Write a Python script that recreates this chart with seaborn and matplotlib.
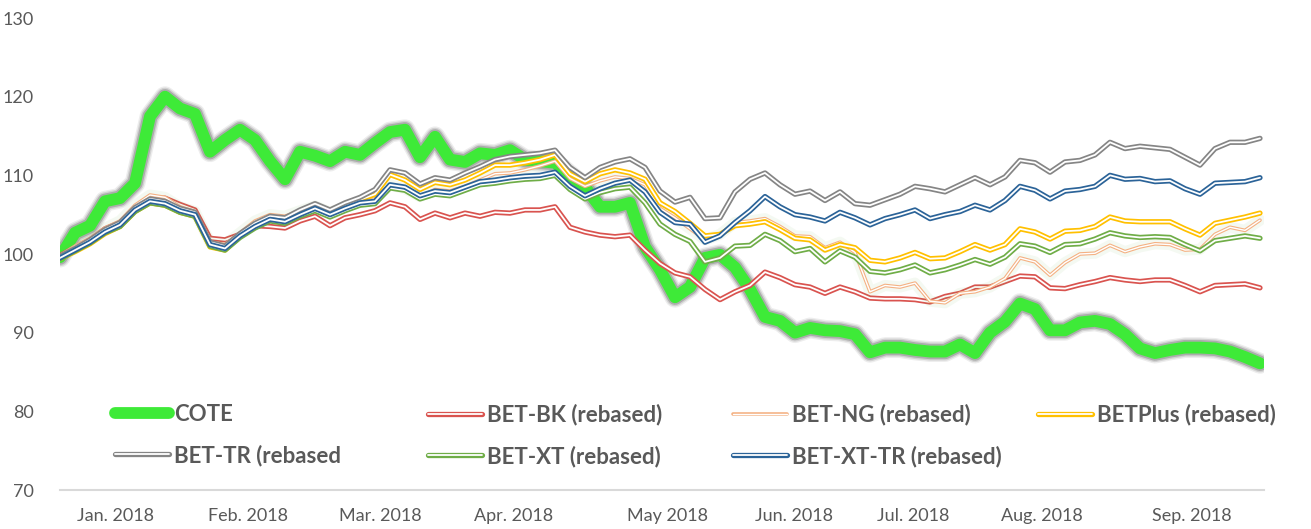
import numpy as np
import pandas as pd
import matplotlib
matplotlib.use("Agg")
import matplotlib.pyplot as plt
import matplotlib.patheffects as pe
from matplotlib.lines import Line2D
from matplotlib.legend_handler import HandlerBase
import seaborn as sns

# ---------------- data ----------------
cote = [99.6, 102.7, 103.6, 106.7, 107.1, 109.0, 117.5, 120.0, 118.5, 117.8,
        113.0, 114.5, 115.8, 114.5, 111.8, 109.5, 113.0, 112.5, 111.8, 113.0,
        112.6, 114.1, 115.5, 115.8, 112.3, 114.9, 112.0, 111.7, 112.8, 112.6,
        113.2, 112.0, 111.8, 111.6, 110.0, 108.5, 106.0, 106.0, 106.5, 100.9,
        98.0, 94.5, 95.8, 99.5, 99.9, 98.3, 95.5, 92.0, 91.5, 90.0,
        90.6, 90.3, 90.2, 89.8, 87.5, 88.1, 88.1, 87.8, 87.6, 87.6,
        88.5, 87.4, 90.0, 91.4, 93.7, 93.0, 90.3, 90.3, 91.3, 91.5,
        91.1, 89.8, 88.0, 87.4, 87.8, 88.1, 88.1, 88.0, 87.6, 86.9, 86.1]

bet_bk = [99.8, 100.8, 101.8, 103.2, 104.0, 105.7, 107.0, 107.1, 106.3, 105.6,
          102.0, 101.8, 102.5, 103.6, 103.5, 103.3, 104.2, 104.8, 103.6, 104.6,
          105.0, 105.5, 106.5, 106.0, 104.4, 105.2, 104.6, 105.2, 104.8, 105.3,
          105.2, 105.6, 105.6, 106.0, 103.4, 102.8, 102.4, 102.2, 102.4, 100.5,
          98.8, 97.6, 97.1, 95.5, 94.2, 95.2, 96.0, 97.7, 97.0, 96.1,
          95.8, 95.0, 95.8, 95.2, 94.4, 94.3, 94.3, 94.2, 93.9, 94.6,
          95.0, 95.8, 95.8, 96.5, 97.2, 97.1, 95.7, 95.6, 96.1, 96.5,
          97.0, 96.7, 96.5, 96.7, 96.7, 96.0, 95.2, 96.0, 96.1, 96.2, 95.7]

bet_ng = [99.8, 101.0, 102.0, 103.3, 104.2, 106.2, 107.5, 107.2, 106.0, 105.4,
          101.5, 101.2, 102.7, 104.2, 105.0, 104.8, 105.5, 106.1, 105.3, 106.0,
          106.6, 107.0, 108.8, 108.3, 107.3, 108.2, 108.0, 108.6, 109.4, 110.2,
          110.3, 110.7, 111.2, 111.8, 109.6, 108.6, 109.3, 109.8, 109.6, 108.8,
          105.8, 104.6, 103.2, 101.8, 102.5, 104.0, 104.2, 104.5, 103.5, 102.3,
          102.2, 100.8, 101.5, 100.2, 95.2, 96.0, 95.8, 96.3, 94.0, 93.8,
          95.0, 95.2, 95.8, 96.9, 99.5, 99.0, 97.3, 98.9, 100.0, 100.1,
          101.1, 100.3, 100.9, 101.3, 101.2, 100.5, 100.6, 102.5, 103.4, 103.0, 104.3]

bet_plus = [99.4, 100.3, 101.3, 102.6, 103.5, 105.4, 106.5, 106.2, 105.3, 104.8,
            100.9, 100.5, 102.2, 103.6, 104.6, 104.4, 105.3, 106.1, 105.4, 106.2,
            106.9, 107.6, 110.1, 109.4, 108.2, 109.1, 108.8, 109.4, 110.3, 111.3,
            111.3, 111.6, 112.0, 112.6, 110.2, 109.2, 110.2, 110.7, 110.3, 109.5,
            106.5, 105.4, 103.9, 102.3, 102.5, 103.6, 103.8, 104.1, 103.1, 102.0,
            101.8, 100.5, 101.2, 100.8, 99.2, 99.0, 99.5, 100.2, 99.4, 99.5,
            100.3, 101.2, 100.5, 101.2, 103.2, 102.8, 101.9, 102.9, 103.0, 103.5,
            104.7, 104.2, 104.1, 104.1, 104.1, 103.2, 102.4, 103.9, 104.3, 104.7, 105.2]

bet_tr = [99.7, 100.7, 101.8, 103.1, 104.0, 105.9, 107.0, 106.7, 105.8, 105.3,
          101.5, 101.0, 102.6, 103.9, 104.8, 104.6, 105.6, 106.4, 105.6, 106.5,
          107.2, 108.2, 110.7, 110.3, 108.9, 109.7, 109.4, 110.3, 111.1, 112.0,
          112.4, 112.6, 112.8, 113.2, 111.0, 109.7, 111.0, 111.7, 112.1, 111.0,
          108.0, 106.6, 107.2, 104.5, 104.6, 107.9, 109.5, 110.3, 108.8, 107.6,
          108.0, 106.8, 107.9, 106.4, 106.2, 106.9, 107.6, 108.6, 108.3, 107.9,
          108.8, 109.7, 108.8, 109.8, 111.9, 111.6, 110.4, 111.7, 111.9, 112.6,
          114.2, 113.4, 113.7, 113.5, 113.3, 112.3, 111.3, 113.4, 114.2, 114.2, 114.7]

bet_xt = [99.4, 100.4, 101.4, 102.7, 103.5, 105.4, 106.5, 106.2, 105.3, 104.8,
          101.0, 100.5, 102.1, 103.3, 104.2, 103.9, 104.8, 105.5, 104.7, 105.5,
          106.2, 106.4, 108.4, 108.1, 107.0, 107.6, 107.4, 108.1, 108.8, 109.0,
          109.3, 109.5, 109.6, 110.0, 108.2, 107.0, 107.8, 108.3, 108.5, 106.5,
          103.8, 102.5, 101.6, 99.0, 99.5, 101.0, 101.1, 102.5, 101.7, 100.3,
          100.7, 99.0, 100.4, 99.6, 97.8, 97.6, 98.0, 98.6, 97.6, 98.0,
          98.6, 99.3, 98.7, 99.6, 101.3, 101.0, 100.2, 101.2, 101.3, 101.9,
          102.7, 102.3, 102.1, 102.2, 102.1, 101.2, 100.4, 101.7, 102.0, 102.3, 102.0]

bet_xt_tr = [99.5, 100.5, 101.5, 102.8, 103.7, 105.6, 106.7, 106.4, 105.5, 105.0,
             101.2, 100.7, 102.3, 103.5, 104.4, 104.1, 105.0, 105.8, 105.0, 105.8,
             106.5, 106.7, 108.8, 108.5, 107.4, 108.0, 107.8, 108.5, 109.2, 109.4,
             109.7, 109.9, 110.0, 110.4, 108.6, 107.4, 108.3, 109.0, 109.4, 107.9,
             105.3, 104.0, 103.8, 101.5, 102.3, 104.0, 105.5, 107.3, 106.0, 105.0,
             104.7, 104.2, 105.3, 104.6, 103.7, 104.5, 105.0, 105.6, 104.5, 105.0,
             105.4, 106.2, 105.6, 106.8, 108.6, 108.1, 107.0, 108.0, 108.2, 108.6,
             110.0, 109.5, 109.6, 109.2, 109.3, 108.3, 107.6, 109.0, 109.1, 109.2, 109.7]

month_labels = ["Jan. 2018", "Feb. 2018", "Mar. 2018", "Apr. 2018", "May 2018",
                "Jun. 2018", "Jul. 2018", "Aug. 2018", "Sep. 2018"]
month_pos = [3.67, 12.53, 21.33, 30.27, 40.53, 48.93, 56.87, 65.47, 75.47]

y_ticks = [70, 80, 90, 100, 110, 120, 130]

series_names = ["COTE", "BET-BK (rebased)", "BET-NG (rebased)", "BETPlus (rebased)",
                "BET-TR (rebased", "BET-XT (rebased)", "BET-XT-TR (rebased)"]
series_vals = [cote, bet_bk, bet_ng, bet_plus, bet_tr, bet_xt, bet_xt_tr]

# ---------------- styling ----------------
sns.set_theme(style="white")
plt.rcParams["font.family"] = ["Lato", "DejaVu Sans"]
TXT = "#595959"

colors = {
    "COTE": "#3EEA38",
    "BET-BK (rebased)": "#D9534F",
    "BET-NG (rebased)": "#F4B183",
    "BETPlus (rebased)": "#FFC000",
    "BET-TR (rebased": "#858585",
    "BET-XT (rebased)": "#6FAD47",
    "BET-XT-TR (rebased)": "#2B6398",
}

def widths(name):
    if name == "BET-NG (rebased)":
        return 2.6, 1.0
    return 3.8, 1.3

W, H = 1311, 529
fig = plt.figure(figsize=(W / 100, H / 100), dpi=100)
ax = fig.add_axes([60 / W, (H - 490) / H, (1264 - 60) / W, (490 - 18) / H])

idx = np.arange(len(cote))
df = pd.DataFrame({"t": np.tile(idx, len(series_names)),
                   "value": np.concatenate(series_vals),
                   "series": np.repeat(series_names, len(idx))})

# COTE: thick green with soft grey shadow
d = df[df.series == "COTE"]
shadow = [pe.Stroke(linewidth=15, foreground="#000000", alpha=0.07),
          pe.Stroke(linewidth=13, foreground="#000000", alpha=0.11),
          pe.Stroke(linewidth=11, foreground="#000000", alpha=0.18),
          pe.Normal()]
sns.lineplot(data=d, x="t", y="value", ax=ax, color=colors["COTE"], lw=8.5,
             solid_capstyle="round", solid_joinstyle="round",
             path_effects=shadow, zorder=2, legend=False)

# the indices: double lines (coloured outer, white inner)
z = 3
for name in series_names[1:]:
    d = df[df.series == name]
    outer, inner = widths(name)
    pes = None
    if name == "BET-NG (rebased)":
        pes = [pe.Stroke(linewidth=8, foreground="#70AD47", alpha=0.07), pe.Normal()]
    sns.lineplot(data=d, x="t", y="value", ax=ax, color=colors[name], lw=outer,
                 solid_joinstyle="round", zorder=z, legend=False, path_effects=pes)
    sns.lineplot(data=d, x="t", y="value", ax=ax, color="white", lw=inner,
                 solid_joinstyle="round", zorder=z + 0.5, legend=False)
    z += 1

ax.set_xlim(0, (1264 - 60) / 15)
ax.set_ylim(70, 130)
ax.set_yticks(y_ticks)
ax.set_yticklabels([str(v) for v in y_ticks], fontsize=13, color=TXT)
ax.set_xticks(month_pos)
ax.set_xticklabels(month_labels, fontsize=13, color=TXT)
ax.tick_params(axis="y", length=0, pad=19)
ax.tick_params(axis="x", length=0, pad=13)
ax.set_xlabel("")
ax.set_ylabel("")
for s in ["top", "right", "left"]:
    ax.spines[s].set_visible(False)
ax.spines["bottom"].set_color("#D9D9D9")
ax.spines["bottom"].set_linewidth(1.5)
ax.grid(False)

# legend handles: double line capsule
class Key:
    def __init__(self, name):
        self.name = name

class KeyHandler(HandlerBase):
    def create_artists(self, legend, orig_handle, xdescent, ydescent, width,
                       height, fontsize, trans):
        name = orig_handle.name
        y = height / 2 - ydescent
        xs = [-xdescent + 2, -xdescent + width - 2]
        if name == "COTE":
            l1 = Line2D(xs, [y, y], color=colors[name], lw=8.5, solid_capstyle="round")
            l1.set_transform(trans)
            return [l1]
        outer, inner = widths(name)
        l1 = Line2D(xs, [y, y], color=colors[name], lw=outer, solid_capstyle="round")
        l2 = Line2D(xs, [y, y], color="white", lw=inner, solid_capstyle="round")
        l1.set_transform(trans)
        l2.set_transform(trans)
        return [l1, l2]

columns = [["COTE", "BET-TR (rebased"],
           ["BET-BK (rebased)", "BET-XT (rebased)"],
           ["BET-NG (rebased)", "BET-XT-TR (rebased)"],
           ["BETPlus (rebased)"]]
col_x = [112, 425, 730, 1035]
for names, xpx in zip(columns, col_x):
    keys = [Key(n) for n in names]
    leg = fig.legend(keys, names, handler_map={Key: KeyHandler()},
                     loc="upper left", bbox_to_anchor=(xpx / W, (H - 404) / H),
                     bbox_transform=fig.transFigure, frameon=False,
                     borderpad=0, borderaxespad=0, handlelength=2.7,
                     handletextpad=0.1, labelspacing=0.88,
                     prop={"family": ["Lato", "DejaVu Sans"], "weight": "bold", "size": 16})
    for t in leg.get_texts():
        t.set_color(TXT)

fig.savefig("out.png", dpi=100, facecolor="white")
